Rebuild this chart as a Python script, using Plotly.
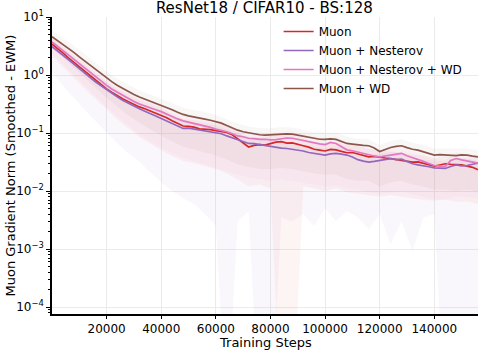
import plotly.graph_objects as go

# EWM-smoothed gradient norm, read every 2000 steps
steps = list(range(0, 158000, 2000))

muon = [3.39, 2.88, 2.40, 1.98, 1.66, 1.37, 1.15, 0.97, 0.813, 0.69,
        0.575, 0.50, 0.437, 0.385, 0.347, 0.31, 0.282, 0.262, 0.240, 0.224,
        0.204, 0.183, 0.162, 0.145, 0.132, 0.130, 0.126, 0.118, 0.117, 0.114,
        0.110, 0.107, 0.102, 0.093, 0.0794, 0.066, 0.0575, 0.0612, 0.0631, 0.0618,
        0.0661, 0.0695, 0.0708, 0.0672, 0.0676, 0.0648, 0.0603, 0.0571, 0.0525, 0.0508,
        0.0490, 0.0522, 0.0513, 0.0482, 0.0457, 0.0461, 0.0437, 0.0405, 0.0389, 0.0396,
        0.0380, 0.0371, 0.0363, 0.0352, 0.0339, 0.0328, 0.0316, 0.0318, 0.0302, 0.0288,
        0.0269, 0.0281, 0.0295, 0.0287, 0.0282, 0.0284, 0.0269, 0.0256, 0.0234]

nesterov = [3.09, 2.62, 2.24, 1.85, 1.55, 1.28, 1.07, 0.90, 0.759, 0.65,
            0.562, 0.48, 0.417, 0.365, 0.324, 0.29, 0.263, 0.238, 0.219, 0.197,
            0.178, 0.16, 0.145, 0.131, 0.120, 0.121, 0.117, 0.112, 0.110, 0.106,
            0.102, 0.097, 0.0891, 0.083, 0.0759, 0.0712, 0.0661, 0.0655, 0.0631, 0.0598,
            0.0575, 0.0568, 0.0550, 0.0541, 0.0525, 0.0512, 0.0490, 0.0462, 0.0447, 0.0431,
            0.0417, 0.0438, 0.0447, 0.0432, 0.0417, 0.0385, 0.0347, 0.0328, 0.0316, 0.0325,
            0.0339, 0.0355, 0.0363, 0.0348, 0.0355, 0.0322, 0.0295, 0.0283, 0.0269, 0.0262,
            0.0251, 0.0248, 0.0245, 0.0265, 0.0282, 0.0271, 0.0275, 0.0289, 0.0302]

nesterov_wd = [3.72, 3.13, 2.63, 2.2, 1.86, 1.54, 1.29, 1.08, 0.912, 0.78,
               0.661, 0.57, 0.501, 0.44, 0.389, 0.35, 0.316, 0.29, 0.269, 0.252,
               0.234, 0.211, 0.191, 0.175, 0.162, 0.154, 0.148, 0.139, 0.132, 0.125,
               0.117, 0.112, 0.105, 0.097, 0.0891, 0.0862, 0.0813, 0.0801, 0.0776, 0.0781,
               0.0759, 0.0772, 0.0794, 0.0821, 0.0813, 0.0775, 0.0741, 0.0712, 0.0676, 0.0648,
               0.0631, 0.0689, 0.0661, 0.0578, 0.0513, 0.0495, 0.0468, 0.0441, 0.0417, 0.0402,
               0.0389, 0.0401, 0.0417, 0.0431, 0.0447, 0.0405, 0.0372, 0.0345, 0.0324, 0.0298,
               0.0275, 0.0268, 0.0263, 0.0335, 0.0363, 0.0345, 0.0331, 0.0318, 0.0302]

wd = [4.57, 3.92, 3.39, 2.86, 2.45, 2.05, 1.74, 1.46, 1.23, 1.03,
      0.871, 0.76, 0.661, 0.58, 0.513, 0.46, 0.417, 0.385, 0.355, 0.328,
      0.302, 0.275, 0.251, 0.228, 0.209, 0.198, 0.191, 0.182, 0.174, 0.166,
      0.158, 0.148, 0.135, 0.121, 0.112, 0.105, 0.100, 0.0962, 0.0933, 0.0918,
      0.0933, 0.0962, 0.0977, 0.0968, 0.0955, 0.0912, 0.0871, 0.0832, 0.0794, 0.0781,
      0.0776, 0.0795, 0.0776, 0.0712, 0.0661, 0.0642, 0.0617, 0.0611, 0.0603, 0.0552,
      0.0479, 0.0525, 0.0562, 0.0589, 0.0603, 0.0561, 0.0525, 0.0508, 0.0479, 0.0445,
      0.0417, 0.0425, 0.0417, 0.0411, 0.0407, 0.0419, 0.0417, 0.0401, 0.0389]

# +/- std bands, read every 4000 steps
band_steps = list(range(0, 160000, 4000))

muon_hi = [4.4, 3.1, 2.2, 1.5, 1.06, 0.76, 0.58, 0.46, 0.37, 0.32,
           0.27, 0.215, 0.175, 0.166, 0.155, 0.146, 0.135, 0.105, 0.078, 0.085,
           0.088, 0.094, 0.090, 0.081, 0.071, 0.066, 0.069, 0.062, 0.059, 0.053,
           0.051, 0.049, 0.046, 0.043, 0.041, 0.037, 0.040, 0.038, 0.037, 0.032]
muon_lo = [2.1, 1.4, 0.9, 0.58, 0.38, 0.25, 0.17, 0.12, 0.085, 0.065,
           0.05, 0.04, 0.033, 0.030, 0.027, 0.024, 0.02, 0.016, 0.012, 0.013,
           0.011, 1e-6, 1e-6, 0.012, 0.011, 0.010, 0.011, 0.0095, 0.009, 0.0085,
           0.008, 0.0085, 0.008, 0.0075, 0.007, 0.0068, 0.0072, 0.0065, 0.0066, 0.006]

nesterov_hi = [4.0, 2.9, 2.0, 1.4, 0.99, 0.73, 0.54, 0.42, 0.34, 0.285,
               0.23, 0.19, 0.156, 0.152, 0.143, 0.133, 0.116, 0.099, 0.086, 0.082,
               0.075, 0.072, 0.068, 0.064, 0.058, 0.054, 0.058, 0.054, 0.045, 0.041,
               0.044, 0.047, 0.046, 0.038, 0.035, 0.033, 0.032, 0.037, 0.036, 0.039]
nesterov_lo = [1.07, 0.65, 0.4, 0.25, 0.16, 0.10, 0.065, 0.045, 0.032, 0.021,
               0.014, 0.010, 0.0075, 0.006, 0.004, 0.0025, 1e-6, 0.003, 0.0045, 1e-6,
               1e-6, 0.0035, 0.003, 0.004, 0.0025, 0.005, 0.003, 0.0045, 0.0035, 0.0022,
               0.004, 0.0012, 0.003, 0.0009, 0.0035, 0.004, 1e-6, 1e-6, 1e-6, 1e-6]

nesterov_wd_hi = [4.8, 3.4, 2.4, 1.7, 1.19, 0.86, 0.65, 0.51, 0.41, 0.35,
                  0.30, 0.25, 0.21, 0.19, 0.172, 0.152, 0.137, 0.116, 0.106, 0.101,
                  0.099, 0.103, 0.106, 0.096, 0.088, 0.082, 0.086, 0.067, 0.061, 0.054,
                  0.051, 0.054, 0.058, 0.048, 0.042, 0.036, 0.034, 0.047, 0.043, 0.039]
nesterov_wd_lo = [2.3, 1.55, 1.0, 0.65, 0.42, 0.28, 0.19, 0.135, 0.095, 0.072,
                  0.056, 0.045, 0.037, 0.033, 0.029, 0.025, 0.022, 0.019, 0.017, 0.016,
                  0.015, 0.016, 0.015, 0.014, 0.013, 0.012, 0.0125, 0.011, 0.0105, 0.0095,
                  0.009, 0.0095, 0.0098, 0.0088, 0.008, 0.0072, 0.007, 0.0082, 0.0078, 0.0075]

wd_hi = [5.9, 4.4, 3.2, 2.3, 1.6, 1.13, 0.86, 0.67, 0.54, 0.46,
         0.39, 0.33, 0.27, 0.25, 0.23, 0.205, 0.175, 0.146, 0.13, 0.121,
         0.121, 0.127, 0.124, 0.113, 0.103, 0.101, 0.101, 0.086, 0.080, 0.078,
         0.062, 0.073, 0.078, 0.068, 0.062, 0.054, 0.054, 0.053, 0.054, 0.051]
wd_lo = [2.9, 2.0, 1.35, 0.9, 0.6, 0.4, 0.28, 0.2, 0.15, 0.115,
         0.09, 0.072, 0.058, 0.052, 0.046, 0.041, 0.035, 0.029, 0.026, 0.024,
         0.024, 0.025, 0.024, 0.022, 0.02, 0.019, 0.019, 0.016, 0.015, 0.015,
         0.012, 0.014, 0.015, 0.013, 0.012, 0.0105, 0.0105, 0.010, 0.0105, 0.0098]

x_ticks = [20000, 40000, 60000, 80000, 100000, 120000, 140000]
y_ticks = [1e1, 1e0, 1e-1, 1e-2, 1e-3, 1e-4]
y_labels = ["10<sup>1</sup>", "10<sup>0</sup>", "10<sup>\u22121</sup>",
            "10<sup>\u22122</sup>", "10<sup>\u22123</sup>", "10<sup>\u22124</sup>"]

series = [
    ("Muon", muon, muon_hi, muon_lo, "214,39,40"),
    ("Muon + Nesterov", nesterov, nesterov_hi, nesterov_lo, "148,103,189"),
    ("Muon + Nesterov + WD", nesterov_wd, nesterov_wd_hi, nesterov_wd_lo, "227,119,194"),
    ("Muon + WD", wd, wd_hi, wd_lo, "140,86,75"),
]

fig = go.Figure()

# std bands first so the mean lines sit on top
for name, vals, hi, lo, rgb in series:
    fig.add_trace(go.Scatter(x=band_steps, y=hi, mode="lines", line=dict(width=0),
                             showlegend=False, hoverinfo="skip"))
    fig.add_trace(go.Scatter(x=band_steps, y=lo, mode="lines", line=dict(width=0),
                             fill="tonexty", fillcolor=f"rgba({rgb},0.05)",
                             showlegend=False, hoverinfo="skip"))

for name, vals, hi, lo, rgb in series:
    fig.add_trace(go.Scatter(x=steps, y=vals, mode="lines", name=name,
                             line=dict(color=f"rgb({rgb})", width=1.7)))

fig.update_xaxes(
    range=[0, 156000],
    tickvals=x_ticks, tickformat="d",
    ticks="outside", ticklen=3, tickcolor="black",
    showline=True, linecolor="black", linewidth=1.5,
    showgrid=True, gridcolor="#ebebeb", gridwidth=1,
    zeroline=False,
)
fig.update_yaxes(
    type="log", range=[-4.12, 1.0],
    tickvals=y_ticks, ticktext=y_labels,
    ticks="outside", ticklen=4, tickcolor="black",
    minor=dict(ticks="outside", ticklen=2, tickcolor="black", dtick="D1", showgrid=False),
    showline=True, linecolor="black", linewidth=1.5,
    showgrid=True, gridcolor="#ebebeb", gridwidth=1,
    zeroline=False,
)
fig.update_layout(
    width=478, height=351,
    margin=dict(l=52, r=0, t=17, b=37),
    paper_bgcolor="white", plot_bgcolor="white",
    font=dict(family="DejaVu Sans", size=12, color="black"),
    title=dict(text="ResNet18 / CIFAR10 - BS:128", x=0.553, xanchor="center",
               y=0.994, yanchor="top", font=dict(family="DejaVu Sans", size=15)),
    legend=dict(x=0.532, y=1.0, xanchor="left", yanchor="top", traceorder="normal",
                bgcolor="rgba(255,255,255,0)", font=dict(size=12)),
    annotations=[
        dict(text="Training Steps", xref="paper", yref="paper", x=0.5, y=0,
             yshift=-28, xanchor="center", yanchor="middle", showarrow=False,
             font=dict(size=13)),
        dict(text="Muon Gradient Norm (Smoothed - EWM)", xref="paper", yref="paper",
             x=0, y=0.5, xshift=-42, xanchor="center", yanchor="middle",
             textangle=-90, showarrow=False, font=dict(size=13)),
    ],
)

fig.write_html("out.html", config={"displayModeBar": False},
               post_script="document.body.style.margin = '0';")
